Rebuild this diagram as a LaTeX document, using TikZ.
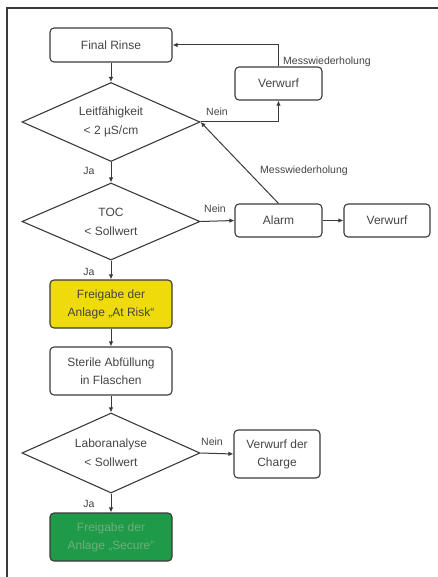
\documentclass[tikz,border=0pt]{standalone}
\usepackage{fontspec}
\setmainfont{Liberation Sans}
\usetikzlibrary{shapes.geometric,arrows.meta}
\definecolor{linec}{HTML}{3A3A3A}
\definecolor{txtc}{HTML}{444444}
\definecolor{yell}{HTML}{EFDB0C}
\definecolor{grn}{HTML}{1E9A48}
\definecolor{grntxt}{HTML}{6FAE7E}
\tikzset{
  box/.style={draw=linec, rounded corners=4pt, line width=1.1pt, minimum width=122pt, minimum height=48pt, align=center, text=txtc, inner sep=0pt, font=\fontsize{12}{18}\selectfont},
  sbox/.style={box, minimum width=87pt, minimum height=33pt},
  dec/.style={diamond, draw=linec, line width=1.1pt, aspect=2.25, minimum width=178pt, minimum height=79pt, inner sep=0pt, align=center, text=txtc, font=\fontsize{12}{19}\selectfont},
  arr/.style={-{Latex[length=5pt,width=4.5pt]}, line width=1pt, draw=linec},
  lab/.style={font=\fontsize{10.5}{12}\selectfont, text=txtc, inner sep=0pt}
}
\begin{document}
\begin{tikzpicture}[x=1pt,y=-1pt]
\useasboundingbox (0,0) rectangle (438,577);
\draw[line width=1.3pt, linec] (7,577) -- (7,8) -- (438,8);
\node[box, minimum height=34pt] (FR) at (111,45) {Final Rinse};
\node[sbox] (VA) at (278.5,83.5) {Verwurf};
\node[dec] (D1) at (111,122) {Leitfähigkeit\\< 2 µS/cm};
\node[dec, minimum height=77pt] (D2) at (111,221.5) {TOC\\< Sollwert};
\node[sbox] (AL) at (278.5,220.5) {Alarm};
\node[sbox, minimum width=86pt] (VB) at (387,220.5) {Verwurf};
\node[box, fill=yell] (FY) at (111,304) {Freigabe der\\Anlage „At Risk“};
\node[box] (SA) at (111,371) {Sterile Abfüllung\\in Flaschen};
\node[dec, minimum height=80pt] (D3) at (111,453) {Laboranalyse\\< Sollwert};
\node[box, minimum width=86pt] (VC) at (277,454) {Verwurf der\\Charge};
\node[box, fill=grn, text=grntxt] (FG) at (111,537) {Freigabe der\\Anlage „Secure“};
\draw[arr] (FR.south) -- (D1.north);
\draw[arr] (D1.east) -| (VA.south);
\draw[arr] (VA.north) |- (FR.east);
\draw[arr] (D1.south) -- (D2.north);
\draw[arr] (D2.east) -- (AL.west);
\draw[arr] (AL.east) -- (VB.west);
\draw[arr] (AL.north) -- (D1.east);
\draw[arr] (D2.south) -- (FY.north);
\draw[arr] (FY.south) -- (SA.north);
\draw[arr] (SA.south) -- (D3.north);
\draw[arr] (D3.east) -- (VC.west);
\draw[arr] (D3.south) -- (FG.north);
\node[lab, anchor=west] (L1) at (283,62) {Messwiederholung};
\node[lab, anchor=west] (L2) at (260,171) {Messwiederholung};
\node[lab] (N1) at (217,112) {Nein};
\node[lab] (N2) at (215,209) {Nein};
\node[lab] (N3) at (212,442) {Nein};
\node[lab] (J1) at (89,171) {Ja};
\node[lab] (J2) at (89,272) {Ja};
\node[lab] (J3) at (89,504) {Ja};
\end{tikzpicture}
\end{document}
